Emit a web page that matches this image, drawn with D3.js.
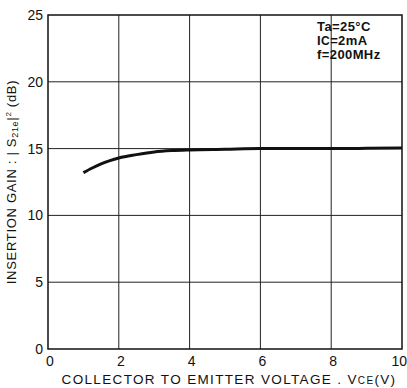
<!DOCTYPE html>
<html>
<head>
<meta charset="utf-8">
<script src="https://cdn.jsdelivr.net/npm/d3@7"></script>
<style>
  body { margin: 0; background: #fff; }
  text { font-family: "Liberation Sans", Arial, sans-serif; fill: #111; }
</style>
</head>
<body>
<div id="chart"></div>
<script>
// Vce (V) and |S21e|^2 (dB)
const vce = [1, 1.25, 1.5, 1.75, 2, 2.5, 3, 3.5, 4, 5, 6, 7, 8, 9, 10];
const gain = [13.2, 13.55, 13.85, 14.1, 14.3, 14.55, 14.75, 14.85, 14.9, 14.95, 15.0, 15.0, 15.0, 15.02, 15.05];
const xTicks = [0, 2, 4, 6, 8, 10];
const yTicks = [0, 5, 10, 15, 20, 25];
const notes = ["Ta=25°C", "IC=2mA", "f=200MHz"];

const W = 407, H = 388;
const margin = { top: 15, right: 5, bottom: 39, left: 48 };
const width = W - margin.left - margin.right;
const height = H - margin.top - margin.bottom;

const svg = d3.select("#chart").append("svg")
  .attr("width", W).attr("height", H);
const g = svg.append("g")
  .attr("transform", "translate(" + margin.left + "," + margin.top + ")");

const x = d3.scaleLinear().domain([0, 10]).range([0, width]);
const y = d3.scaleLinear().domain([0, 25]).range([height, 0]);

// grid
g.append("g").selectAll("line").data(xTicks.slice(1, -1)).enter().append("line")
  .attr("x1", d => x(d)).attr("x2", d => x(d))
  .attr("y1", 0).attr("y2", height)
  .attr("stroke", "#222").attr("stroke-width", 1);
g.append("g").selectAll("line").data(yTicks.slice(1, -1)).enter().append("line")
  .attr("x1", 0).attr("x2", width)
  .attr("y1", d => y(d)).attr("y2", d => y(d))
  .attr("stroke", "#222").attr("stroke-width", 1);

// frame
g.append("rect").attr("x", 0).attr("y", 0)
  .attr("width", width).attr("height", height)
  .attr("fill", "none").attr("stroke", "#111").attr("stroke-width", 1.5);

// tick labels
g.append("g").selectAll("text").data(yTicks).enter().append("text")
  .attr("x", -5).attr("y", d => y(d)).attr("dy", "0.36em")
  .attr("text-anchor", "end").attr("font-size", 14)
  .text(d => d);
g.append("g").selectAll("text").data(xTicks).enter().append("text")
  .attr("x", d => d === 10 ? W - margin.left : x(d) + 2).attr("y", height + 17)
  .attr("text-anchor", d => d === 10 ? "end" : "middle").attr("font-size", 14)
  .text(d => d);

// curve
g.append("path").datum(vce.map((v, i) => [v, gain[i]]))
  .attr("fill", "none").attr("stroke", "#111").attr("stroke-width", 3)
  .attr("d", d3.line().x(d => x(d[0])).y(d => y(d[1])).curve(d3.curveMonotoneX));

// annotation
const note = g.append("text").attr("x", x(7.6)).attr("y", 16)
  .attr("font-size", 13).attr("font-weight", "bold").attr("letter-spacing", 0.4);
notes.forEach((t, i) => {
  const tl = note.append("tspan").attr("x", x(7.6)).attr("dy", i === 0 ? 0 : 14);
  if (t.startsWith("IC")) {
    tl.text("I");
    tl.append("tspan").attr("font-size", 12).text("C");
    tl.append("tspan").text("=2mA");
  } else tl.text(t);
});

// axis titles
const xl = svg.append("text")
  .attr("x", margin.left + width / 2 + 4).attr("y", H - 4)
  .attr("text-anchor", "middle").attr("font-size", 13.5)
  .attr("letter-spacing", 1.35);
xl.append("tspan").text("COLLECTOR TO EMITTER VOLTAGE . V");
xl.append("tspan").attr("font-size", 10).text("CE");
xl.append("tspan").text("(V)");

const yl = svg.append("text")
  .attr("transform", "translate(16," + (margin.top + height / 2) + ") rotate(-90)")
  .attr("text-anchor", "middle").attr("font-size", 13)
  .attr("letter-spacing", 0.7);
yl.append("tspan").text("INSERTION GAIN : | S");
yl.append("tspan").attr("font-size", 9).attr("dy", 2).text("21e");
yl.append("tspan").attr("dy", -2).text("|");
yl.append("tspan").attr("font-size", 8).attr("dy", -5).text("2");
yl.append("tspan").attr("dy", 5).text(" (dB)");
</script>
</body>
</html>
